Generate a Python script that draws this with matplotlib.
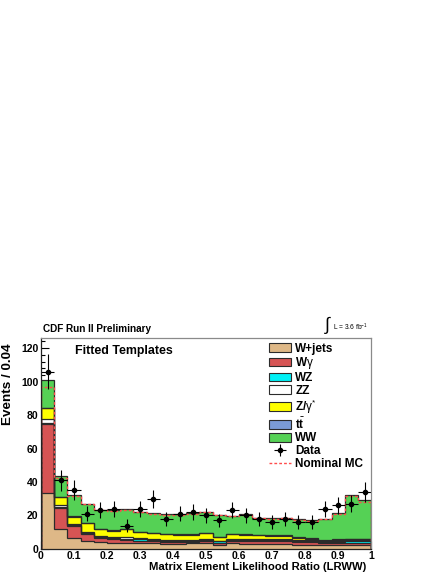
import numpy as np
import matplotlib.pyplot as plt
from matplotlib.patches import Patch
from matplotlib.lines import Line2D
from matplotlib.ticker import MultipleLocator

plt.rcParams['font.family'] = ['Liberation Sans', 'DejaVu Sans']
plt.rcParams['mathtext.fontset'] = 'custom'
plt.rcParams['mathtext.rm'] = 'Liberation Sans'
plt.rcParams['mathtext.bf'] = 'Liberation Sans:bold'
plt.rcParams['mathtext.it'] = 'Liberation Sans:italic'

# 25 bins of 0.04 in LRWW
edges = np.linspace(0.0, 1.0, 26)

# stacked templates (bottom -> top)
wjets = [33.3, 11.8, 6.8, 5.0, 4.0, 3.8, 3.6, 3.4, 3.3, 3.2, 3.2, 3.3, 3.6,
         2.5, 3.5, 3.0, 3.0, 2.9, 2.9, 2.6, 2.6, 2.4, 2.4, 2.3, 2.3]
wgamma = [41.2, 12.7, 6.7, 3.8, 2.5, 2.2, 1.9, 1.6, 1.7, 1.0, 1.1, 1.1, 1.0,
          1.3, 1.3, 1.5, 1.5, 1.6, 1.7, 1.6, 1.4, 1.1, 1.2, 1.3, 1.3]
wz = [1.0, 0.7, 0.7, 0.8, 0.8, 0.8, 0.7, 0.7, 0.6, 0.6, 0.7, 0.6, 0.7,
      0.7, 0.8, 0.7, 0.7, 0.7, 0.7, 0.7, 0.7, 0.7, 0.8, 1.0, 1.0]
zz = [2.0, 0.8, 0.8, 0.7, 0.7, 0.6, 1.0, 0.6, 0.6, 0.7, 0.6, 0.6, 0.5,
      0.5, 0.5, 0.6, 0.5, 0.5, 0.5, 0.5, 0.5, 0.4, 0.4, 0.6, 0.6]
zgamma = [6.5, 5.0, 4.3, 5.0, 4.0, 3.6, 4.8, 3.7, 3.3, 3.5, 3.0, 3.0, 3.8,
          2.0, 2.9, 2.7, 2.5, 2.3, 2.1, 1.4, 1.0, 0.4, 0.7, 0.8, 0.8]
ttbar = [0.3, 0.2, 0.2, 0.2, 0.2, 0.2, 0.2, 0.2, 0.2, 0.2, 0.2, 0.2, 0.2,
         0.2, 0.2, 0.2, 0.2, 0.2, 0.2, 0.2, 0.2, 0.2, 0.2, 0.2, 0.2]
ww = [16.7, 12.3, 12.5, 11.5, 11.1, 12.3, 11.5, 12.0, 11.7, 11.8, 12.2, 12.6, 12.5,
      13.1, 10.6, 11.9, 10.3, 10.2, 10.5, 10.8, 10.6, 12.8, 15.6, 26.1, 22.8]

data = [106, 41, 35, 21, 23, 24, 14, 24, 30, 18, 21, 22, 20,
        17, 23, 20, 18, 16, 18, 16, 16, 24, 26, 27, 34]

nominal_mc = [96.5, 42.5, 31.5, 27.0, 23.0, 22.5, 23.5, 22.0, 21.0, 20.5, 20.5, 21.0, 22.0,
              20.0, 19.5, 20.3, 18.2, 18.0, 18.2, 17.5, 16.8, 17.8, 21.0, 31.5, 28.0]

labels = ['W+jets', r'W$\mathrm{\gamma}$', 'WZ', 'ZZ', r'Z/$\mathrm{\gamma}^{*}$',
          r'$\mathbf{t}\bar{\mathbf{t}}$', 'WW']
colors = ['#deb887', '#d65454', '#00f0f5', '#ffffff', '#ffff00', '#7b9bd6', '#55d155']
components = [wjets, wgamma, wz, zz, zgamma, ttbar, ww]

edge_col = '#2b2b2b'

fig = plt.figure(figsize=(4.45, 5.76), dpi=100)
ax = fig.add_axes([0.092, 0.047, 0.742, 0.366])

cum = np.cumsum(np.array(components), axis=0)
for i in range(len(components) - 1, -1, -1):
    ax.stairs(cum[i], edges, fill=True, facecolor=colors[i], edgecolor='none', zorder=2)
    ax.stairs(cum[i], edges, color=edge_col, lw=0.9, zorder=3)

ax.stairs(nominal_mc, edges, color='#ff4c4c', lw=1.0, ls=(0, (2, 1.5)), zorder=4)

centers = 0.5 * (edges[:-1] + edges[1:])
data_arr = np.array(data, dtype=float)
eb = ax.errorbar(centers, data_arr, xerr=0.02, yerr=np.sqrt(data_arr), fmt='o',
                 color='black', ms=3, elinewidth=0.8, capsize=0, zorder=5)

ax.set_xlim(0, 1)
ax.set_ylim(0, 126)
ax.xaxis.set_minor_locator(MultipleLocator(0.02))
ax.yaxis.set_major_locator(MultipleLocator(20))
ax.yaxis.set_minor_locator(MultipleLocator(4))
ax.set_xticks(np.arange(0, 1.01, 0.1))
ax.set_xticklabels(['0', '0.1', '0.2', '0.3', '0.4', '0.5', '0.6', '0.7', '0.8', '0.9', '1'])
ax.tick_params(which='major', direction='in', length=6, width=0.8, labelsize=7.5, pad=2)
ax.tick_params(axis='x', which='major', pad=1.5)
ax.tick_params(which='minor', direction='in', length=3, width=0.8)
ax.tick_params(top=False, right=False)
for lab in ax.get_xticklabels() + ax.get_yticklabels():
    lab.set_fontweight('bold')
for side in ['top', 'right']:
    ax.spines[side].set_color('#8a8a8a')
for side in ['left', 'bottom']:
    ax.spines[side].set_color('#222222')
for s in ax.spines.values():
    s.set_linewidth(0.9)
    s.set_zorder(6)

ax.set_xlabel('Matrix Element Likelihood Ratio (LRWW)', fontsize=8.1,
              fontweight='bold', loc='right')
ax.xaxis.set_label_coords(0.985, -0.064)
ax.set_ylabel('Events / 0.04', fontsize=9.7, fontweight='bold', loc='top')
ax.yaxis.set_label_coords(-0.082, 0.975)

ax.text(0.25, 0.965, 'Fitted Templates', transform=ax.transAxes, fontsize=8.9,
        fontweight='bold', ha='center', va='top')

fig.text(0.097, 0.429, 'CDF Run II Preliminary', fontsize=7.2, fontweight='bold',
         ha='left', va='center')
fig.text(0.728, 0.436, r'$\int$', fontsize=13, ha='left', va='center')
fig.text(0.748, 0.432, r'L = 3.6 fb$^{-1}$', fontsize=4.8, ha='left', va='center')

handles = [Patch(facecolor=c, edgecolor=edge_col, lw=0.8) for c in colors]
handles.append(eb)
handles.append(Line2D([], [], color='#ff4c4c', lw=1.0, ls=(0, (2, 1.5))))
leg_labels = labels + ['Data', 'Nominal MC']
leg = ax.legend(handles, leg_labels, loc='upper left', bbox_to_anchor=(0.685, 0.99),
                frameon=False, prop={'weight': 'bold', 'size': 8.5},
                handlelength=1.85, handleheight=0.75, labelspacing=0.06,
                handletextpad=0.35, borderaxespad=0.0, borderpad=0.2)

fig.savefig('out.png', dpi=100)
